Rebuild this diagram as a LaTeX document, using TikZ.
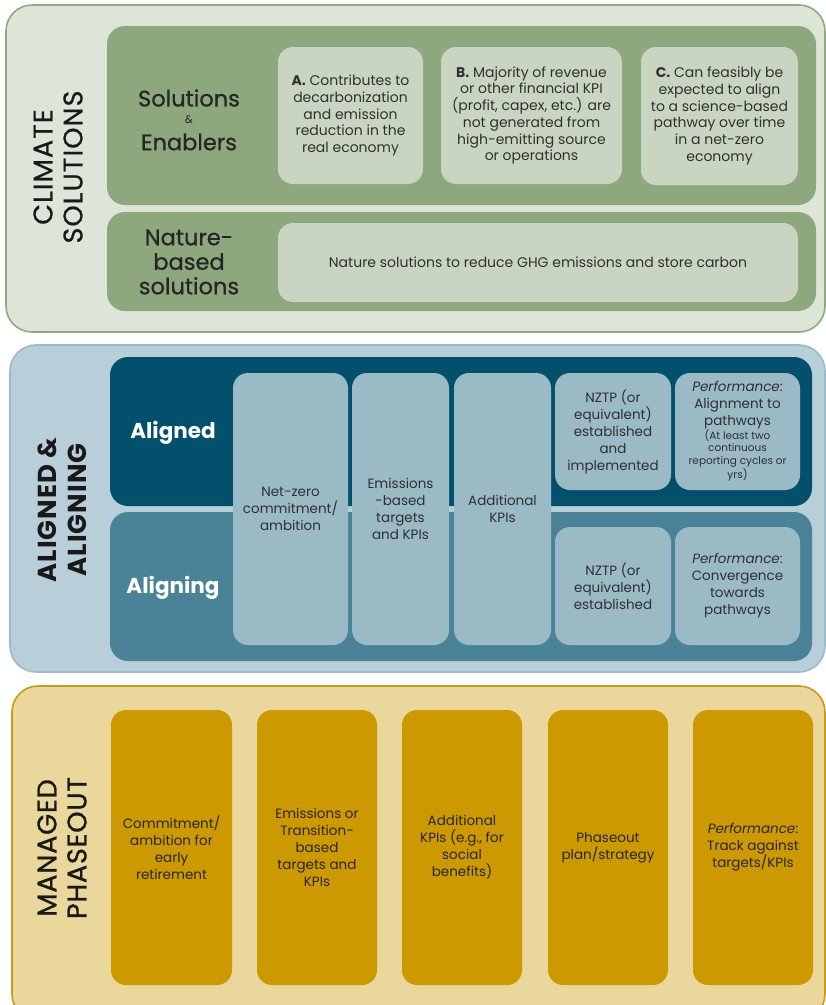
\documentclass[tikz,border=0pt]{standalone}
\usepackage{fontspec}
\setmainfont{Poppins}
\definecolor{gOutF}{HTML}{DDE5D9}
\definecolor{gOutL}{HTML}{8FAA7F}
\definecolor{gMid}{HTML}{8DA87C}
\definecolor{gLight}{HTML}{C9D5C1}
\definecolor{bOutF}{HTML}{B8CFD9}
\definecolor{bOutL}{HTML}{9ABBCB}
\definecolor{bDark}{HTML}{03506D}
\definecolor{bMid}{HTML}{4A8398}
\definecolor{bLight}{HTML}{9ABAC6}
\definecolor{yOutF}{HTML}{E9D79B}
\definecolor{yOutL}{HTML}{CC9B14}
\definecolor{yBox}{HTML}{CC9900}
\definecolor{txt}{HTML}{303030}
\begin{document}
\begin{tikzpicture}[x=1pt,y=-1pt,
  bx/.style={rounded corners=15pt, inner sep=0pt, align=center, anchor=center, text=txt,
    font=\fontsize{14}{16.7}\selectfont},
  mbx/.style={bx, font=\fontsize{13.5}{17}\selectfont},
  ybx/.style={bx, fill=yBox, text=black!85, minimum width=120, minimum height=275,
    font=\fontsize{13.5}{17}\selectfont},
  outer/.style={rounded corners=26pt, line width=1.6pt, inner sep=0pt},
  head/.style={align=center, text=black!85,
    font=\fontsize{22.5}{24.5}\selectfont\addfontfeatures{FakeBold=0.8}},
  side/.style={rotate=90, align=center, text=black!90,
    font=\fontsize{27}{30}\selectfont\addfontfeatures{LetterSpace=4,FakeBold=0.6}}
]
\useasboundingbox (0,0) rectangle (826,1005);
\clip (0,0) rectangle (826,1005);
% ---------- Climate solutions
\node[outer, draw=gOutL, fill=gOutF, minimum width=819, minimum height=327] (o1) at (415.5,168.5) {};
\node[bx, rounded corners=18pt, fill=gMid, minimum width=709, minimum height=179] (se) at (461.5,115.5) {};
\node[bx, rounded corners=18pt, fill=gMid, minimum width=709, minimum height=99] (nb) at (461.5,261.5) {};
\node[bx, fill=gLight, minimum width=145, minimum height=137] (A) at (350.5,115.5)
  {\textbf{A.} Contributes to\\decarbonization\\and emission\\reduction in the\\real economy};
\node[bx, fill=gLight, minimum width=181, minimum height=137] (B) at (531.5,115.5)
  {\textbf{B.} Majority of revenue\\or other financial KPI\\(profit, capex, etc.) are\\not generated from\\high-emitting source\\or operations};
\node[bx, fill=gLight, minimum width=157, minimum height=138] (C) at (719.5,116)
  {\textbf{C.} Can feasibly be\\expected to align\\to a science-based\\pathway over time\\in a net-zero\\economy};
\node[bx, fill=gLight, minimum width=520, minimum height=79] (N) at (538,262.5)
  {Nature solutions to reduce GHG emissions and store carbon};
\node[head] (seT) at (189,98) {Solutions};
\node[head, font=\fontsize{11}{12}\selectfont] (amp) at (189,120) {\&};
\node[head] (enT) at (189,142) {Enablers};
\node[head] (nbT) at (189,262) {Nature-\\based\\solutions};
\node[side] (cs) at (58,167) {CLIMATE\\SOLUTIONS};
% ---------- Aligned & aligning
\node[outer, draw=bOutL, fill=bOutF, minimum width=815, minimum height=327] (o2) at (417.5,508.5) {};
\node[bx, rounded corners=18pt, fill=bDark, minimum width=702, minimum height=149] (ad) at (461,431.5) {};
\node[bx, rounded corners=18pt, fill=bMid, minimum width=702, minimum height=149] (ag) at (461,586.5) {};
\node[head, text=white, font=\bfseries\fontsize{21.5}{24}\selectfont] (adT) at (173,433) {Aligned};
\node[head, text=white, font=\bfseries\fontsize{21.5}{24}\selectfont] (agT) at (173,588) {Aligning};
\node[mbx, fill=bLight, minimum width=115, minimum height=272] (c1) at (290.5,509)
  {Net-zero\\commitment/\\ambition};
\node[mbx, fill=bLight, minimum width=97, minimum height=272] (c2) at (400.5,509)
  {Emissions\\-based\\targets\\and KPIs};
\node[mbx, fill=bLight, minimum width=97, minimum height=272] (c3) at (502.5,509)
  {Additional\\KPIs};
\node[mbx, fill=bLight, minimum width=116, minimum height=117] (nz1) at (613,431.5)
  {NZTP (or\\equivalent)\\established\\and\\implemented};
\node[mbx, fill=bLight, minimum width=125, minimum height=117] (pf1) at (737.5,431.5)
  {\textit{Performance}:\\Alignment to\\pathways\\[-3pt]{\fontsize{10.5}{12.8}\selectfont\begin{tabular}[t]{@{}c@{}}(At least two\\continuous\\reporting cycles or\\yrs)\end{tabular}}};
\node[mbx, fill=bLight, minimum width=116, minimum height=118] (nz2) at (613,586)
  {NZTP (or\\equivalent)\\established};
\node[mbx, fill=bLight, minimum width=125, minimum height=118] (pf2) at (737.5,586)
  {\textit{Performance}:\\Convergence\\towards\\pathways};
\node[side, font=\bfseries\fontsize{26}{30}\selectfont\addfontfeatures{LetterSpace=4}] (aa) at (62,510) {ALIGNED \&\\ALIGNING};
% ---------- Managed phaseout
\node[outer, draw=yOutL, fill=yOutF, minimum width=813, minimum height=334] (o3) at (418.5,853) {};
\node[ybx, minimum width=121] (p1) at (171.5,847.5)
  {Commitment/\\ambition for\\early\\retirement};
\node[ybx] (p2) at (317,847.5)
  {Emissions or\\Transition-\\based\\targets and\\KPIs};
\node[ybx] (p3) at (462,847.5)
  {Additional\\KPIs (e.g., for\\social\\benefits)};
\node[ybx] (p4) at (608,847.5)
  {Phaseout\\plan/strategy};
\node[ybx] (p5) at (753,847.5)
  {\textit{Performance}:\\Track against\\targets/KPIs};
\node[side, font=\fontsize{27}{30}\selectfont\addfontfeatures{LetterSpace=3,FakeBold=1}] (mp) at (62,848) {MANAGED\\PHASEOUT};
\end{tikzpicture}
\end{document}
